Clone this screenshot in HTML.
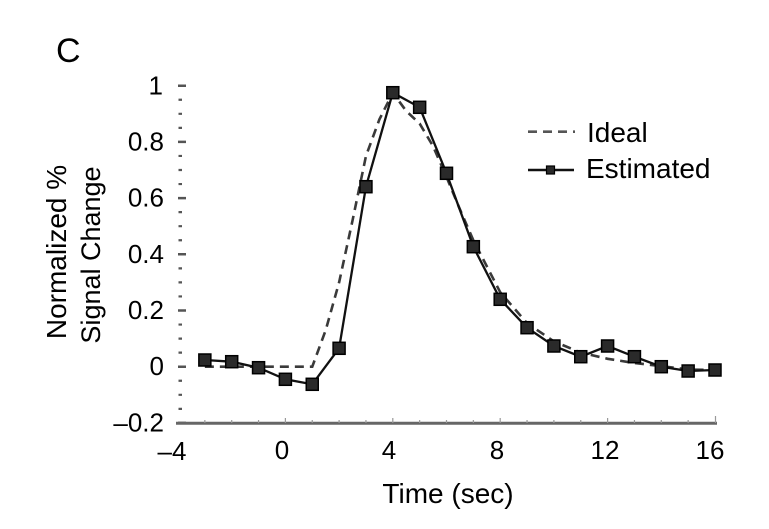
<!DOCTYPE html>
<html><head><meta charset="utf-8"><style>
html,body{margin:0;padding:0;background:#fff;}
svg{display:block;}
text{font-family:"Liberation Sans",Arial,sans-serif;fill:#000;}
</style></head><body>
<svg width="769" height="529" viewBox="0 0 769 529" xmlns="http://www.w3.org/2000/svg">
<rect width="769" height="529" fill="#fff"/>
<text x="56" y="62" font-size="34">C</text>
<!-- y axis dotted ticks -->
<g stroke="#555" stroke-width="2.5">
<path d="M178 85.7h8M178 141.9h8M178 198.1h8M178 254.3h8M178 310.5h8M178 366.7h8M178 422.9h8"/>
<path stroke-width="2.2" d="M178.5 99.75h3.5M178.5 113.8h3.5M178.5 127.85h3.5M178.5 155.95h3.5M178.5 170h3.5M178.5 184.05h3.5M178.5 212.15h3.5M178.5 226.2h3.5M178.5 240.25h3.5M178.5 268.35h3.5M178.5 282.4h3.5M178.5 296.45h3.5M178.5 324.55h3.5M178.5 338.6h3.5M178.5 352.65h3.5M178.5 380.75h3.5M178.5 394.8h3.5M178.5 408.85h3.5"/>
</g>
<!-- x axis -->
<line x1="176" y1="423.3" x2="717" y2="423.3" stroke="#666" stroke-width="3"/>
<g stroke="#999" stroke-width="1.2">
<path d="M204.85 423v-3M231.7 423v-3M258.55 423v-3M312.25 423v-3M339.1 423v-3M365.95 423v-3M419.65 423v-3M446.5 423v-3M473.35 423v-3M527.05 423v-3M553.9 423v-3M580.75 423v-3M634.45 423v-3M661.3 423v-3M688.15 423v-3"/>
<path d="M285.4 423v-5M392.8 423v-5M500.2 423v-5M607.6 423v-5M715.5 423v-7"/>
</g>
<!-- y tick labels -->
<g font-size="26" text-anchor="end">
<text x="163" y="94.5">1</text>
<text x="164" y="150.5">0.8</text>
<text x="164" y="206.6">0.6</text>
<text x="164" y="262.8">0.4</text>
<text x="164" y="319">0.2</text>
<text x="164" y="375.2">0</text>
<text x="164" y="431.4">–0.2</text>
</g>
<!-- x tick labels -->
<g font-size="26" text-anchor="middle">
<text x="172" y="460">–4</text>
<text x="282" y="459">0</text>
<text x="389" y="459">4</text>
<text x="497" y="459">8</text>
<text x="605" y="459">12</text>
<text x="710" y="459">16</text>
</g>
<text x="448" y="503" font-size="28" text-anchor="middle">Time (sec)</text>
<text transform="translate(66,252) rotate(-90)" font-size="28" text-anchor="middle">Normalized %</text>
<text transform="translate(100,255) rotate(-90)" font-size="27" text-anchor="middle">Signal Change</text>
<!-- ideal -->
<polyline fill="none" stroke="#3a3a3a" stroke-width="2.6" stroke-dasharray="9,6" points="204.85,366.7 312.25,366.7 325.7,330.2 339.1,282.4 352.5,220.6 366,155.9 379.4,119.4 392.8,92.7 406.2,111 419.65,123.6 433,146.1 446.5,177 459.9,209.3 473.35,240.3 500.2,292.2 527,323.1 553.9,341.4 580.75,352.6 607.6,358.8 634.45,363 661.3,366.1 688.15,369.5 715,370"/>
<!-- estimated -->
<polyline fill="none" stroke="#111" stroke-width="2.3" points="204.85,360 231.7,361.7 258.55,367.7 285.4,379.3 312.25,384.3 339.1,348.3 365.95,186.7 392.8,92.7 419.65,107.3 446.5,173.3 473.35,246.7 500.2,299.3 527.05,327.7 553.9,346 580.75,356.7 607.6,346 634.45,356.7 661.3,366.7 688.15,371 715,370"/>
<g fill="#2a2a2a" stroke="#000" stroke-width="1.5">
<rect x="198.85" y="354" width="12" height="12"/>
<rect x="225.7" y="355.7" width="12" height="12"/>
<rect x="252.55" y="361.7" width="12" height="12"/>
<rect x="279.4" y="373.3" width="12" height="12"/>
<rect x="306.25" y="378.3" width="12" height="12"/>
<rect x="333.1" y="342.3" width="12" height="12"/>
<rect x="359.95" y="180.7" width="12" height="12"/>
<rect x="386.8" y="86.7" width="12" height="12"/>
<rect x="413.65" y="101.3" width="12" height="12"/>
<rect x="440.5" y="167.3" width="12" height="12"/>
<rect x="467.35" y="240.7" width="12" height="12"/>
<rect x="494.2" y="293.3" width="12" height="12"/>
<rect x="521.05" y="321.7" width="12" height="12"/>
<rect x="547.9" y="340" width="12" height="12"/>
<rect x="574.75" y="350.7" width="12" height="12"/>
<rect x="601.6" y="340" width="12" height="12"/>
<rect x="628.45" y="350.7" width="12" height="12"/>
<rect x="655.3" y="360.7" width="12" height="12"/>
<rect x="682.15" y="365" width="12" height="12"/>
<rect x="709" y="364" width="12" height="12"/>
</g>
<!-- legend -->
<line x1="528" y1="131.7" x2="575" y2="131.7" stroke="#555" stroke-width="2.6" stroke-dasharray="9,6"/>
<text x="587" y="142" font-size="28">Ideal</text>
<line x1="528" y1="170" x2="574" y2="170" stroke="#111" stroke-width="2.6"/>
<rect x="546.5" y="166" width="8" height="8" fill="#2a2a2a" stroke="#000" stroke-width="1.2"/>
<text x="586" y="178" font-size="28">Estimated</text>
</svg>
</body></html>
